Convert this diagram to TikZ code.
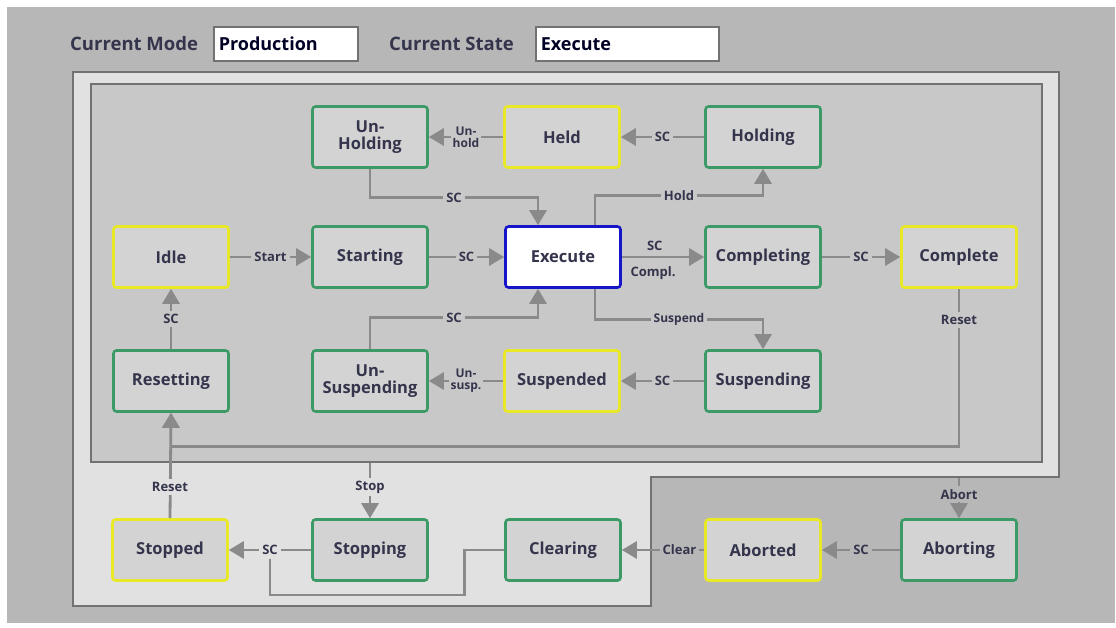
\documentclass[tikz,border=0pt]{standalone}
\usepackage{fontspec}
\setmainfont{Open Sans}
\usetikzlibrary{arrows.meta,calc}
\definecolor{bgout}{HTML}{B7B7B7}
\definecolor{frameL}{HTML}{E1E1E1}
\definecolor{panel}{HTML}{C8C8C8}
\definecolor{nodefill}{HTML}{D3D3D3}
\definecolor{frameline}{HTML}{727272}
\definecolor{arr}{HTML}{8A8A8A}
\definecolor{txt}{HTML}{34344C}
\definecolor{grn}{HTML}{3B9A66}
\definecolor{yel}{HTML}{E8E826}
\definecolor{blu}{HTML}{1616C8}
\newcommand{\statefont}{\bfseries\fontsize{16.5}{17.5}\selectfont}
\newcommand{\lblfont}{\bfseries\fontsize{13}{13.5}\selectfont}
\newcommand{\smlblfont}{\bfseries\fontsize{12}{12}\selectfont}
\tikzset{
  st/.style={draw, line width=2.6pt, rounded corners=3pt, minimum width=115pt, minimum height=61pt,
    fill=nodefill, text=txt, font=\statefont, align=center, inner sep=2pt},
  gs/.style={st, draw=grn},
  ys/.style={st, draw=yel},
  bs/.style={st, draw=blu, fill=white},
  conn/.style={draw=arr, line width=2.8pt, -{Triangle[length=15pt,width=17pt]}},
  plainline/.style={draw=arr, line width=2.8pt},
  lbl/.style={font=\lblfont, text=txt, fill=panel, inner sep=3pt},
  hdr/.style={font=\bfseries\fontsize{18.5}{19}\selectfont, text=txt, anchor=west, inner sep=0pt},
  hbox/.style={draw=frameline, line width=1.5pt, fill=white, minimum height=34pt, anchor=west,
    font=\bfseries\fontsize{18}{19}\selectfont, text=black!85!blue, inner xsep=5pt, text width=#1, align=left},
}
\begin{document}
\begin{tikzpicture}[x=1pt,y=-1pt]
\useasboundingbox (0,0) rectangle (1116,628);
\fill[white] (0,0) rectangle (1116,628);
\fill[bgout] (7,7) rectangle (1115,623);
% frames
\filldraw[fill=frameL, draw=frameline, line width=2.2pt]
  (73,72) -- (1059,72) -- (1059,477) -- (651,477) -- (651,606) -- (73,606) -- cycle;
\filldraw[fill=panel, draw=frameline, line width=2.2pt] (91,84) rectangle (1042,462);
% header
\node[hdr] (cm) at (70,44) {Current Mode};
\node[hbox=134pt] (mode) at (213,44) {Production};
\node[hdr] (cs) at (389,44) {Current State};
\node[hbox=173pt] (state) at (535,44) {Execute};
% states
\node[gs] (unholding) at (370,137) {Un-\\Holding};
\node[ys] (held) at (562,137) {Held};
\node[gs] (holding) at (763,137) {Holding};
\node[ys] (idle) at (171,257) {Idle};
\node[gs] (starting) at (370,257) {Starting};
\node[bs] (execute) at (563,257) {Execute};
\node[gs] (completing) at (763,257) {Completing};
\node[ys] (complete) at (959,257) {Complete};
\node[gs] (resetting) at (171,381) {Resetting};
\node[gs] (unsusp) at (370,381) {Un-\\Suspending};
\node[ys] (suspended) at (562,381) {Suspended};
\node[gs] (suspending) at (763,381) {Suspending};
\node[ys] (stopped) at (170,550) {Stopped};
\node[gs] (stopping) at (370,550) {Stopping};
\node[gs] (clearing) at (563,550) {Clearing};
\node[ys] (aborted) at (763,550) {Aborted};
\node[gs] (aborting) at (959,550) {Aborting};
\coordinate (stopin) at (370,463);
\coordinate (abortin) at (959,478);
% connectors
\draw[conn] (idle) -- node[lbl]{Start} (starting);
\draw[conn] (starting) -- node[lbl]{SC} (execute);
\draw[conn] (execute) -- node[pos=0.4, above, font=\lblfont, text=txt, inner sep=5pt]{SC}
  node[pos=0.38, below, font=\lblfont, text=txt, inner sep=8pt]{Compl.} (completing);
\draw[conn] (completing) -- node[lbl]{SC} (complete);
\draw[conn] (resetting) -- node[lbl]{SC} (idle);
\draw[conn] ([xshift=32pt]execute.north) -- ++(0,-30) -| node[lbl, pos=0.25]{Hold} (holding.south);
\draw[conn] (holding) -- node[lbl]{SC} (held);
\draw[conn] (held) -- node[lbl, font=\smlblfont, align=center, inner sep=2pt]{Un-\\hold} (unholding);
\draw[conn] (unholding.south) -- ++(0,29) -| node[lbl, pos=0.25]{SC} ([xshift=-25pt]execute.north);
\draw[conn] ([xshift=32pt]execute.south) -- ++(0,31) -| node[lbl, pos=0.25, font=\smlblfont]{Suspend} (suspending.north);
\draw[conn] (suspending) -- node[lbl]{SC} (suspended);
\draw[conn] (suspended) -- node[lbl, font=\smlblfont, align=center, inner sep=2pt]{Un-\\susp.} (unsusp);
\draw[conn] (unsusp.north) -- ++(0,-31.5) -| node[lbl, pos=0.25]{SC} ([xshift=-25pt]execute.south);
\draw[conn] (complete.south) -- ++(0,158) -| (resetting.south);
\node[lbl] at ($(complete.south)+(0,31)$) {Reset};
\draw[conn] (stopped.north) -- (resetting.south);
\node[lbl, fill=frameL] at ($(stopped.north)+(0,-31)$) {Reset};
\draw[conn] (stopin) -- (stopping.north);
\node[lbl, fill=frameL] at ($(stopping.north)+(0,-31)$) {Stop};
\draw[conn] (stopping) -- node[lbl, fill=frameL] (sclbl) {SC} (stopped);
\draw[plainline] (clearing.west) -- ++(-40,0) -- ++(0,45) -| (sclbl.south);
\draw[conn] (aborted) -- node[lbl, fill=bgout, pos=0.3]{Clear} (clearing);
\draw[conn] (aborting) -- node[lbl, fill=bgout]{SC} (aborted);
\draw[conn] (abortin) -- (aborting.north);
\node[lbl, fill=bgout] at ($(aborting.north)+(0,-24)$) {Abort};
\end{tikzpicture}
\end{document}
